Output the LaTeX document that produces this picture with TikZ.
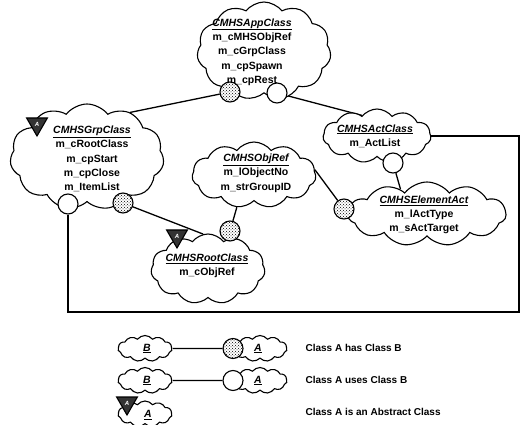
\documentclass[tikz,border=0pt]{standalone}
\usepackage{fontspec}
\setmainfont{Liberation Sans}
\usetikzlibrary{shapes.symbols,shapes.geometric,patterns,backgrounds}
\newcommand\clsname[1]{\textit{\underline{#1}}}
\begin{document}
\begin{tikzpicture}[x=1pt,y=-1pt,
  line width=1.1pt,
  cls/.style={cloud, cloud puffs=11, cloud puff arc=105, cloud ignores aspect, draw, fill=white, inner sep=0pt},
  txt/.style={align=center, font=\fontsize{10.5}{14.3}\selectfont\bfseries, inner sep=0pt},
  hasdot/.style={circle, draw, minimum size=20pt, inner sep=0pt, fill=white, postaction={pattern=crosshatch dots}},
  usesdot/.style={circle, draw, minimum size=20pt, inner sep=0pt, fill=white},
  abst/.style={regular polygon, regular polygon sides=3, shape border rotate=180, draw, fill=black!80, minimum size=24pt, inner sep=0pt, text=white, font=\fontsize{6}{6}\selectfont\bfseries\itshape},
  legtxt/.style={anchor=west, font=\fontsize{10}{11}\selectfont\bfseries, inner sep=0pt},
  conn/.style={line width=1.3pt}
]
\useasboundingbox (0,0) rectangle (523,425);

% classes
\node[cls, minimum width=134pt, minimum height=98pt] (app) at (264,51) {};
\node[txt] (appT) at (252,52) {\clsname{CMHSAppClass}\\m\_cMHSObjRef\\m\_cGrpClass\\m\_cpSpawn\\m\_cpRest};
\node[cls, minimum width=154pt, minimum height=106pt] (grp) at (87,157) {};
\node[txt] (grpT) at (92,159) {\clsname{CMHSGrpClass}\\m\_cRootClass\\m\_cpStart\\m\_cpClose\\m\_ItemList};
\node[cls, minimum width=124pt, minimum height=66pt] (obj) at (254,175) {};
\node[txt] (objT) at (256,173) {\clsname{CMHSObjRef}\\m\_lObjectNo\\m\_strGroupID};
\node[cls, minimum width=108pt, minimum height=54pt] (act) at (377,136) {};
\node[txt] (actT) at (375,136) {\clsname{CMHSActClass}\\m\_ActList};
\node[cls, minimum width=158pt, minimum height=64pt] (elem) at (427,214) {};
\node[txt] (elemT) at (424,215) {\clsname{CMHSElementAct}\\m\_lActType\\m\_sActTarget};
\node[cls, minimum width=114pt, minimum height=70pt] (root) at (208,269) {};
\node[txt] (rootT) at (207,266) {\clsname{CMHSRootClass}\\m\_cObjRef};

% adornments
\node[hasdot] (appHas) at (230,92) {};
\node[usesdot] (appUses) at (277,93) {};
\node[usesdot] (grpUses) at (68,204) {};
\node[hasdot] (grpHas) at (123,203) {};
\node[hasdot] (rootHas) at (230,231) {};
\node[hasdot] (elemHas) at (344,209) {};
\node[usesdot] (actUses) at (393,163) {};
\node[abst] (grpAbs) at (37,124) {A};
\node[abst] (rootAbs) at (177,236) {A};

\coordinate (br) at (519,312);

% legend
\node[cls, minimum width=54pt, minimum height=26pt] (legB1) at (145,348.5) {};
\node[txt] (legB1T) at (147,348.5) {\clsname{B}};
\node[cls, minimum width=54pt, minimum height=26pt] (legA1) at (260,348.5) {};
\node[txt] (legA1T) at (258,348.5) {\clsname{A}};
\node[hasdot] (legHas) at (233,348.5) {};
\node[legtxt] (leg1) at (305,348) {Class A has Class B};

\node[cls, minimum width=54pt, minimum height=26pt] (legB2) at (145,380.5) {};
\node[txt] (legB2T) at (147,380.5) {\clsname{B}};
\node[cls, minimum width=54pt, minimum height=26pt] (legA2) at (260,380.5) {};
\node[txt] (legA2T) at (258,380.5) {\clsname{A}};
\node[usesdot] (legUses) at (233,380.5) {};
\node[legtxt] (leg2) at (305,380) {Class A uses Class B};

\node[cls, minimum width=54pt, minimum height=26pt] (legA3) at (145,414) {};
\node[txt] (legA3T) at (148,415) {\clsname{A}};
\node[abst] (legAbs) at (127,403) {A};
\node[legtxt] (leg3) at (305,412) {Class A is an Abstract Class};

\begin{scope}[on background layer]
\draw[conn] (appHas) -- (grp.46);
\draw[conn] (appUses) -- (act.126);
\draw[conn] (grpHas) -- (root.98);
\draw[conn] (rootHas) -- (obj.242);
\draw[conn] (elemHas) -- (obj.5);
\draw[conn] (actUses) -- (elem.137);
\draw[conn] (grpUses) |- (br) |- (act);
\draw[conn] (legB1) -- (legHas);
\draw[conn] (legB2) -- (legUses);
\end{scope}
\end{tikzpicture}
\end{document}
